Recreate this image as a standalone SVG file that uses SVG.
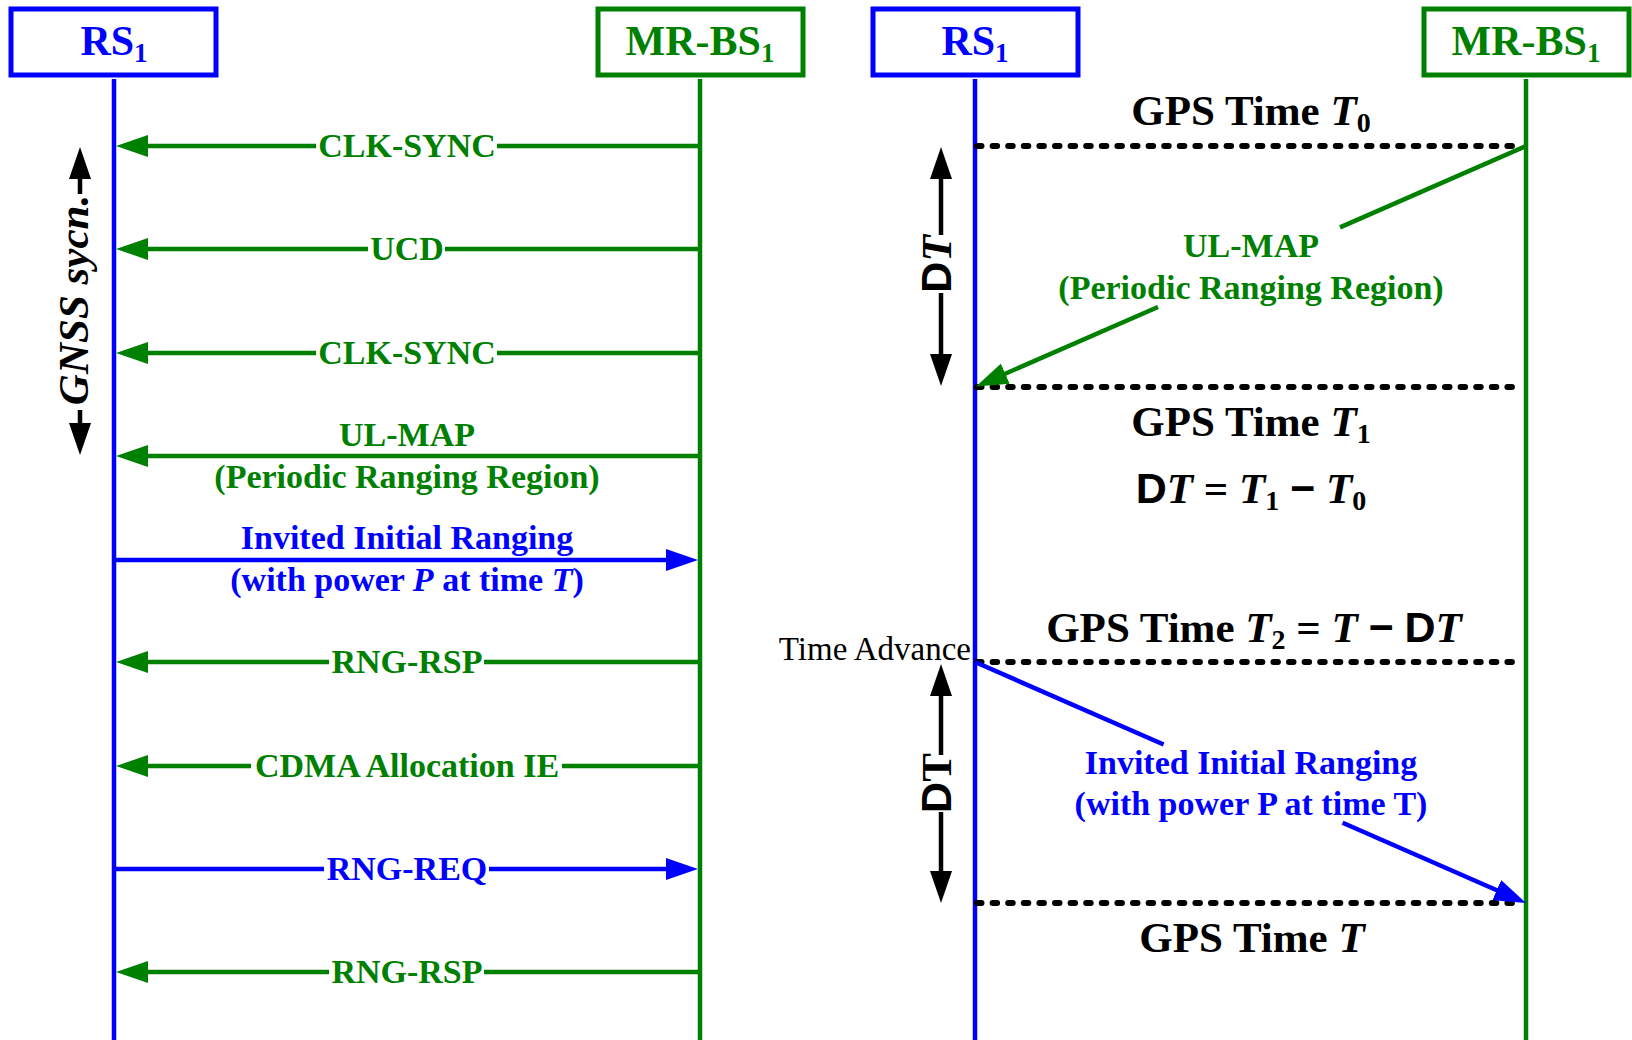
<svg xmlns="http://www.w3.org/2000/svg" width="1632" height="1040" viewBox="0 0 1632 1040">
<style>
.box{fill:#fff;stroke-width:5}
.life{stroke-width:4.5;fill:none}
.bs{stroke:#0000ff}
.gs{stroke:#008000}
.ks{stroke:#000}
.msg{stroke-width:4.5;fill:none}
.dot{stroke:#000;stroke-width:6;stroke-linecap:round;stroke-dasharray:4.5 11.1;fill:none}
.hdr{font-family:"Liberation Serif","Times New Roman",serif;font-weight:bold;font-size:42px;text-anchor:middle}
.lbl{font-family:"Liberation Serif","Times New Roman",serif;font-weight:bold;font-size:34px;text-anchor:middle}
.gps{font-family:"Liberation Serif","Times New Roman",serif;font-weight:bold;font-size:43px;text-anchor:middle;fill:#000}
.reg{font-family:"Liberation Serif","Times New Roman",serif;font-size:33px;fill:#000}
.g{fill:#008000}
.b{fill:#0000ff}
.sans{font-family:"Liberation Sans",Arial,sans-serif}
.it{font-style:italic}
</style>
<defs>
<marker id="ag" viewBox="0 0 32 22" refX="12" refY="11" markerWidth="32" markerHeight="22" markerUnits="userSpaceOnUse" orient="auto"><path d="M0,0 L32,11 L0,22 z" fill="#008000"/></marker>
<marker id="ab" viewBox="0 0 32 22" refX="12" refY="11" markerWidth="32" markerHeight="22" markerUnits="userSpaceOnUse" orient="auto"><path d="M0,0 L32,11 L0,22 z" fill="#0000ff"/></marker>
<marker id="ak" viewBox="0 0 32 22" refX="12" refY="11" markerWidth="32" markerHeight="22" markerUnits="userSpaceOnUse" orient="auto"><path d="M0,0 L32,11 L0,22 z" fill="#000"/></marker>
</defs>

<g id="lifelines">
<line class="life bs" x1="114" y1="79" x2="114" y2="1040"/>
<line class="life gs" x1="700" y1="79" x2="700" y2="1040"/>
<line class="life bs" x1="975" y1="79" x2="975" y2="1040"/>
<line class="life gs" x1="1526" y1="79" x2="1526" y2="1040"/>
</g>

<g id="node-rs1-left">
<rect class="box bs" x="11" y="9" width="205" height="66"/>
<text class="hdr b" x="114" y="55">RS<tspan font-size="27" dy="7">1</tspan></text>
</g>
<g id="node-mrbs1-left">
<rect class="box gs" x="598" y="9" width="205" height="66"/>
<text class="hdr g" x="700" y="55">MR-BS<tspan font-size="27" dy="7">1</tspan></text>
</g>
<g id="node-rs1-right">
<rect class="box bs" x="873" y="9" width="205" height="66"/>
<text class="hdr b" x="975" y="55">RS<tspan font-size="27" dy="7">1</tspan></text>
</g>
<g id="node-mrbs1-right">
<rect class="box gs" x="1424" y="9" width="205" height="66"/>
<text class="hdr g" x="1526" y="55">MR-BS<tspan font-size="27" dy="7">1</tspan></text>
</g>

<g id="connectors">
<line class="msg gs" x1="700" y1="146" x2="497" y2="146"/>
<line class="msg gs" x1="316" y1="146" x2="136" y2="146" marker-end="url(#ag)"/>
<line class="msg gs" x1="700" y1="249" x2="445" y2="249"/>
<line class="msg gs" x1="368" y1="249" x2="136" y2="249" marker-end="url(#ag)"/>
<line class="msg gs" x1="700" y1="353" x2="497" y2="353"/>
<line class="msg gs" x1="316" y1="353" x2="136" y2="353" marker-end="url(#ag)"/>
<line class="msg gs" x1="700" y1="456" x2="136" y2="456" marker-end="url(#ag)"/>
<line class="msg bs" x1="114" y1="560" x2="678" y2="560" marker-end="url(#ab)"/>
<line class="msg gs" x1="700" y1="662" x2="484" y2="662"/>
<line class="msg gs" x1="329" y1="662" x2="136" y2="662" marker-end="url(#ag)"/>
<line class="msg gs" x1="700" y1="766" x2="562" y2="766"/>
<line class="msg gs" x1="251" y1="766" x2="136" y2="766" marker-end="url(#ag)"/>
<line class="msg bs" x1="114" y1="869" x2="324" y2="869"/>
<line class="msg bs" x1="489" y1="869" x2="678" y2="869" marker-end="url(#ab)"/>
<line class="msg gs" x1="700" y1="972" x2="484" y2="972"/>
<line class="msg gs" x1="329" y1="972" x2="136" y2="972" marker-end="url(#ag)"/>
<line class="msg ks" x1="80" y1="194" x2="80" y2="167" marker-end="url(#ak)"/>
<line class="msg ks" x1="80" y1="410" x2="80" y2="435" marker-end="url(#ak)"/>
<line class="dot" x1="977" y1="146" x2="1520" y2="146"/>
<line class="dot" x1="977" y1="387" x2="1520" y2="387"/>
<line class="dot" x1="977" y1="662" x2="1520" y2="662"/>
<line class="dot" x1="977" y1="903" x2="1520" y2="903"/>
<line class="msg gs" x1="1526" y1="146" x2="1340" y2="227.4"/>
<line class="msg gs" x1="1158" y1="307" x2="994.3" y2="378.5" marker-end="url(#ag)"/>
<line class="msg bs" x1="975" y1="662" x2="1163.6" y2="744.5"/>
<line class="msg bs" x1="1342.6" y1="822.8" x2="1507.7" y2="895" marker-end="url(#ab)"/>
<line class="msg ks" x1="941" y1="235" x2="941" y2="167" marker-end="url(#ak)"/>
<line class="msg ks" x1="941" y1="293" x2="941" y2="366" marker-end="url(#ak)"/>
<line class="msg ks" x1="941" y1="755" x2="941" y2="684" marker-end="url(#ak)"/>
<line class="msg ks" x1="941" y1="812" x2="941" y2="883" marker-end="url(#ak)"/>
</g>

<g id="labels">
<text class="lbl g" x="407" y="157">CLK-SYNC</text>
<text class="lbl g" x="407" y="260">UCD</text>
<text class="lbl g" x="407" y="364">CLK-SYNC</text>
<text class="lbl g" x="407" y="446">UL-MAP</text>
<text class="lbl g" x="407" y="488">(Periodic Ranging Region)</text>
<text class="lbl b" x="407" y="549">Invited Initial Ranging</text>
<text class="lbl b" x="407" y="591">(with power <tspan class="it">P</tspan> at time <tspan class="it">T</tspan>)</text>
<text class="lbl g" x="407" y="673">RNG-RSP</text>
<text class="lbl g" x="407" y="777">CDMA Allocation IE</text>
<text class="lbl b" x="407" y="880">RNG-REQ</text>
<text class="lbl g" x="407" y="983">RNG-RSP</text>
<text class="gps it" transform="translate(88,300) rotate(-90)">GNSS sycn.</text>

<text class="gps" x="1251" y="125">GPS Time <tspan class="it">T</tspan><tspan font-size="28" dy="7">0</tspan></text>
<text class="lbl g" x="1251" y="257">UL-MAP</text>
<text class="lbl g" x="1251" y="299">(Periodic Ranging Region)</text>
<text class="gps" x="1251" y="436">GPS Time <tspan class="it">T</tspan><tspan font-size="28" dy="7">1</tspan></text>
<text class="gps" x="1251" y="503"><tspan class="sans">D</tspan><tspan class="it">T</tspan> = <tspan class="it">T</tspan><tspan font-size="28" dy="7">1</tspan><tspan dy="-7"> </tspan><tspan class="sans">−</tspan> <tspan class="it">T</tspan><tspan font-size="28" dy="7">0</tspan></text>
<text class="gps" x="1254" y="642">GPS Time <tspan class="it">T</tspan><tspan font-size="28" dy="7">2</tspan><tspan dy="-7"> = </tspan><tspan class="it">T</tspan> <tspan class="sans">−</tspan> <tspan class="sans">D</tspan><tspan class="it">T</tspan></text>
<text class="reg" x="971" y="660" text-anchor="end">Time Advance</text>
<text class="lbl b" x="1251" y="774">Invited Initial Ranging</text>
<text class="lbl b" x="1251" y="815">(with power P at time T)</text>
<text class="gps" x="1252" y="952">GPS Time <tspan class="it">T</tspan></text>
<text class="gps" transform="translate(951,264) rotate(-90)"><tspan class="sans">D</tspan><tspan class="it">T</tspan></text>
<text class="gps" transform="translate(951,783) rotate(-90)"><tspan class="sans">D</tspan>T</text>
</g>
</svg>
